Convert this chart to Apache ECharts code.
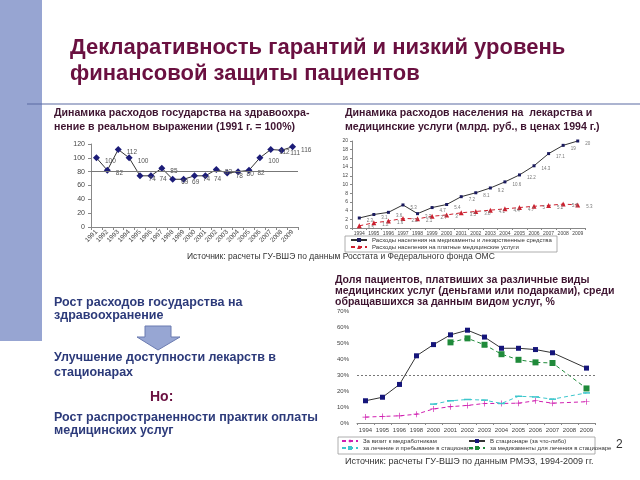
<!DOCTYPE html>
<html>
<head>
<meta charset="utf-8">
<script src="https://cdn.jsdelivr.net/npm/echarts@6.0.0/dist/echarts.min.js"></script>
<style>
  html, body { margin: 0; padding: 0; background: #fff; }
  #main { width: 640px; height: 480px; }
</style>
</head>
<body>
<div id="main"></div>
<script>
// chart 1: state health spending, real terms (1991 = 100%)
const years1 = ['1991', '1992', '1993', '1994', '1995', '1996', '1997', '1998', '1999', '2000',
  '2001', '2002', '2003', '2004', '2005', '2006', '2007', '2008', '2009']
const govSpending = [100, 82, 112, 100, 74, 74, 85, 69, 69, 74, 74, 83, 78, 80, 82, 100, 112, 111, 116]
const ticks1 = [0, 20, 40, 60, 80, 100, 120]

// chart 2: household spending, bn rub in 1994 prices
const years2 = ['1994', '1995', '1996', '1997', '1998', '1999', '2000', '2001', '2002', '2003',
  '2004', '2005', '2006', '2007', '2008', '2009']
const drugSpending = [2.3, 3.1, 3.6, 5.3, 3.3, 4.7, 5.4, 7.2, 8.1, 9.2, 10.6, 12.2, 14.3, 17.1, 19.0, 20.0]
const serviceSpending = [0.5, 1.2, 1.6, 2.2, 2.1, 2.7, 3.0, 3.5, 3.8, 4.1, 4.4, 4.7, 5.0, 5.2, 5.5, 5.3]

// chart 3: share of patients who paid, %
const years3 = ['1994', '1995', '1996', '1998', '2000', '2001', '2002', '2003', '2004', '2005',
  '2006', '2007', '2008', '2009']
const paidVisit = [3.7, 4.1, 4.5, 5.5, 8.8, 10.2, 11.0, 12.2, 12.2, 12.4, 13.9, 12.4, null, 13.3]
const paidHospital = [13.9, 16.1, 24.1, 42.0, 49.0, 55.1, 58.0, 53.7, 46.7, 46.7, 45.9, 43.9, null, 34.3]
const paidTreatment = [null, null, null, null, 11.8, 13.9, 14.7, 14.3, 12.2, 16.7, 16.3, 14.9, null, 18.8]
const paidMedicines = [null, null, null, null, null, 50.4, 52.9, 48.9, 43.0, 39.5, 37.9, 37.5, null, 21.6]

const names2 = ['Расходы населения на медикаменты и лекарственные средства',
  'Расходы населения на платные медицинские услуги']
const names3 = ['За визит к медработникам', 'В стационаре (за что-либо)',
  'за лечение и пребывание в стационаре', 'за медикаменты для лечения в стационаре']

const FONT = '"Liberation Sans", Arial, sans-serif'
const chart = echarts.init(document.getElementById('main'), null, { renderer: 'canvas' })

function txt(left, top, text, size, color, weight) {
  return {
    type: 'text', left: left, top: top, silent: true,
    style: { text: text, font: (weight || 'bold') + ' ' + size + 'px ' + FONT, fill: color }
  }
}

const titleColor = '#6a1040'
const subColor = '#3e1430'
const leftColor = '#2c3a7a'

const axisLine = { lineStyle: { color: '#888', width: 1 } }
const smallLabel = { fontSize: 6, color: '#444', fontFamily: FONT }

const option = {
  animation: false,
  textStyle: { fontFamily: FONT },
  graphic: [
    { type: 'rect', shape: { x: 0, y: 0, width: 42, height: 341 }, style: { fill: '#97a5d2' }, silent: true },
    { type: 'line', shape: { x1: 27, y1: 104, x2: 640, y2: 104 }, style: { stroke: '#5a6aa2', lineWidth: 1.2 }, silent: true },
    txt(70, 37, 'Декларативность гарантий и низкий уровень', 22, titleColor),
    txt(70, 63, 'финансовой защиты пациентов', 22, titleColor),
    txt(54, 108, 'Динамика расходов государства на здравоохра-', 10.6, subColor),
    txt(54, 122, 'нение в реальном выражении (1991 г. = 100%)', 10.6, subColor),
    txt(345, 108, 'Динамика расходов населения на  лекарства и', 10.6, subColor),
    txt(345, 122, 'медицинские услуги (млрд. руб., в ценах 1994 г.)', 10.6, subColor),
    txt(187, 252, 'Источник: расчеты ГУ-ВШЭ по данным Росстата и Федерального фонда ОМС', 8.5, '#333', 'normal'),
    txt(335, 275, 'Доля пациентов, платвиших за различные виды', 10.5, subColor),
    txt(335, 286, 'медицинских услуг (деньгами или подарками), среди', 10.5, subColor),
    txt(335, 297, 'обращавшихся за данным видом услуг, %', 10.5, subColor),
    txt(54, 296, 'Рост расходов государства на', 12.5, leftColor),
    txt(54, 309, 'здравоохранение', 12.5, leftColor),
    {
      type: 'polygon', silent: true,
      shape: { points: [[145, 326], [171, 326], [171, 337], [180, 337], [158, 350], [137, 337], [145, 337]] },
      style: { fill: '#97a6d3', stroke: '#6b7bb0', lineWidth: 1 }
    },
    txt(54, 351, 'Улучшение доступности лекарств в', 12.5, leftColor),
    txt(54, 366, 'стационарах', 12.5, leftColor),
    txt(150, 390, 'Но:', 14, titleColor),
    txt(54, 411, 'Рост распространенности практик оплаты', 12.5, leftColor),
    txt(54, 424, 'медицинских услуг', 12.5, leftColor),
    { type: 'rect', shape: { x: 345, y: 236, width: 212, height: 16 }, style: { fill: 'none', stroke: '#999', lineWidth: 0.8 }, silent: true },
    { type: 'rect', shape: { x: 338, y: 437, width: 257, height: 17 }, style: { fill: 'none', stroke: '#999', lineWidth: 0.8 }, silent: true },
    txt(616, 439, '2', 12, '#333', 'normal'),
    txt(345, 457, 'Источник: расчеты ГУ-ВШЭ по данным РМЭЗ, 1994-2009 гг.', 9, '#333', 'normal')
  ],
  legend: [
    {
      data: names2, orient: 'vertical', left: 350, top: 237, padding: 0, itemGap: 1,
      itemWidth: 16, itemHeight: 5, textStyle: { fontSize: 6, color: '#333' }
    },
    {
      data: [names3[0], names3[2]], orient: 'vertical', left: 341, top: 438, padding: 0, itemGap: 1,
      itemWidth: 16, itemHeight: 5, textStyle: { fontSize: 6, color: '#333' }
    },
    {
      data: [names3[1], names3[3]], orient: 'vertical', left: 468, top: 438, padding: 0, itemGap: 1,
      itemWidth: 16, itemHeight: 5, textStyle: { fontSize: 6, color: '#333' }
    }
  ],
  grid: [
    { left: 91, right: 342, top: 144, bottom: 253 },
    { left: 352, right: 55, top: 141, bottom: 252 },
    { left: 357, right: 45, top: 311, bottom: 57 }
  ],
  xAxis: [
    {
      gridIndex: 0, type: 'category', data: years1, boundaryGap: true,
      axisLine: axisLine, axisTick: { show: true, alignWithLabel: false, length: 3, lineStyle: { color: '#888' } },
      axisLabel: { fontSize: 6.5, color: '#444', rotate: 45, interval: 0, margin: 4 }
    },
    {
      gridIndex: 1, type: 'category', data: years2, boundaryGap: true,
      axisLine: axisLine, axisTick: { show: true, length: 2, lineStyle: { color: '#888' } },
      axisLabel: Object.assign({ interval: 0, margin: 3 }, smallLabel, { fontSize: 5 })
    },
    {
      gridIndex: 2, type: 'category', data: years3, boundaryGap: true,
      axisLine: axisLine, axisTick: { show: true, length: 2, lineStyle: { color: '#888' } },
      axisLabel: Object.assign({ interval: 0, margin: 4 }, smallLabel)
    }
  ],
  yAxis: [
    {
      gridIndex: 0, type: 'value', min: ticks1[0], max: ticks1[ticks1.length - 1], interval: 20,
      axisLine: { show: true, lineStyle: { color: '#888' } }, axisTick: { show: true, length: 3, lineStyle: { color: '#888' } },
      splitLine: { show: false }, axisLabel: { fontSize: 7, color: '#444', margin: 6 }
    },
    {
      gridIndex: 1, type: 'value', min: 0, max: 20, interval: 2,
      axisLine: { show: true, lineStyle: { color: '#888' } }, axisTick: { show: true, length: 2, lineStyle: { color: '#888' } },
      splitLine: { show: false }, axisLabel: Object.assign({ margin: 4 }, smallLabel, { fontSize: 5 })
    },
    {
      gridIndex: 2, type: 'value', min: 0, max: 70, interval: 10,
      axisLine: { show: false }, axisTick: { show: false },
      splitLine: { show: false }, axisLabel: Object.assign({ margin: 8, formatter: '{value}%' }, smallLabel)
    }
  ],
  series: [
    {
      name: 'gov', type: 'line', xAxisIndex: 0, yAxisIndex: 0, data: govSpending,
      symbol: 'diamond', symbolSize: 7, itemStyle: { color: '#1c1c78' },
      lineStyle: { color: '#333', width: 1 },
      label: { show: true, position: 'right', offset: [0, 3], fontSize: 6.5, color: '#555' },
      markLine: {
        silent: true, symbol: 'none', label: { show: false },
        lineStyle: { color: '#777', type: 'solid', width: 1 }, data: [{ yAxis: 80 }]
      }
    },
    {
      name: names2[0], type: 'line', xAxisIndex: 1, yAxisIndex: 1, data: drugSpending,
      symbol: 'rect', symbolSize: 3, itemStyle: { color: '#1a1a5e' },
      lineStyle: { color: '#333', width: 1 },
      label: { show: true, position: 'right', offset: [1, 3], fontSize: 4.5, color: '#777' }
    },
    {
      name: names2[1], type: 'line', xAxisIndex: 1, yAxisIndex: 1, data: serviceSpending,
      symbol: 'triangle', symbolSize: 5, itemStyle: { color: '#cc1f2e' },
      lineStyle: { color: '#cc1f2e', width: 1, type: [4, 3] },
      label: { show: true, position: 'right', offset: [1, 2], fontSize: 4.5, color: '#777' }
    },
    {
      name: names3[0], type: 'line', xAxisIndex: 2, yAxisIndex: 2, data: paidVisit, connectNulls: true,
      symbol: 'path://M4,0L5,0L5,4L9,4L9,5L5,5L5,9L4,9L4,5L0,5L0,4L4,4Z', symbolSize: 6,
      itemStyle: { color: '#d01fb0' }, lineStyle: { color: '#d01fb0', width: 1, type: [4, 3] },
      markLine: {
        silent: true, symbol: 'none', label: { show: false },
        lineStyle: { color: '#777', type: [2, 2], width: 1 }, data: [{ yAxis: 30 }]
      }
    },
    {
      name: names3[1], type: 'line', xAxisIndex: 2, yAxisIndex: 2, data: paidHospital, connectNulls: true,
      symbol: 'rect', symbolSize: 5, itemStyle: { color: '#15157a' },
      lineStyle: { color: '#333', width: 1 }
    },
    {
      name: names3[2], type: 'line', xAxisIndex: 2, yAxisIndex: 2, data: paidTreatment, connectNulls: true,
      symbol: 'rect', symbolSize: [7, 1.5], itemStyle: { color: '#3cc6cc' },
      lineStyle: { color: '#3cc6cc', width: 1, type: [4, 3] }
    },
    {
      name: names3[3], type: 'line', xAxisIndex: 2, yAxisIndex: 2, data: paidMedicines, connectNulls: true,
      symbol: 'rect', symbolSize: 6, itemStyle: { color: '#1f8a3a' },
      lineStyle: { color: '#1f8a3a', width: 1, type: [4, 3] }
    }
  ]
}

chart.setOption(option)
</script>
</body>
</html>
